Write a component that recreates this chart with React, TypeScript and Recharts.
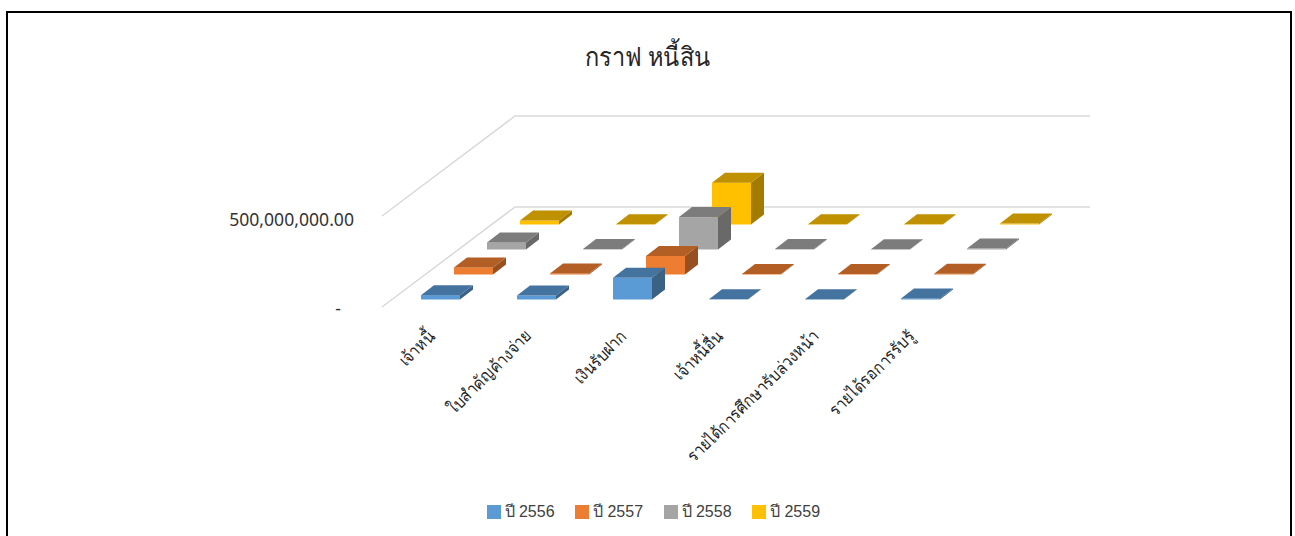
import React from 'react';
import { BarChart, Bar, XAxis, YAxis, Legend, ReferenceLine } from 'recharts';

const categories = ['เจ้าหนี้', 'ใบสำคัญค้างจ่าย', 'เงินรับฝาก', 'เจ้าหนี้อื่น', 'รายได้การศึกษารับล่วงหน้า', 'รายได้รอการรับรู้'];
const y2556 = [24000000, 22000000, 119000000, 1000000, 2000000, 6000000];
const y2557 = [39000000, 6000000, 102000000, 3000000, 3000000, 4000000];
const y2558 = [39000000, 3000000, 178000000, 3000000, 2000000, 5000000];
const y2559 = [22000000, 2000000, 230000000, 2000000, 2000000, 5000000];
const axisTicks = [0, 500000000];

const data = categories.map((name, i) => ({
  name,
  'ปี 2556': y2556[i],
  'ปี 2557': y2557[i],
  'ปี 2558': y2558[i],
  'ปี 2559': y2559[i],
}));

const THAI_FONT = '"Noto Sans", "Liberation Sans", sans-serif';
const LEGEND_FONT = '"Liberation Sans", "Noto Sans", sans-serif';

// depth step between rows, and the depth of one box
const ROW_DX = 33;
const ROW_DY = -25;
const BOX_DX = 13;
const BOX_DY = -10;

const series = [
  { key: 'ปี 2559', row: 3, front: '#FFC000', top: '#BF9000', side: '#A37B00' },
  { key: 'ปี 2558', row: 2, front: '#A5A5A5', top: '#7C7C7C', side: '#696969' },
  { key: 'ปี 2557', row: 1, front: '#ED7D31', top: '#B25E25', side: '#985020' },
  { key: 'ปี 2556', row: 0, front: '#5B9BD5', top: '#44739F', side: '#3A6285' },
];

const Box3D = (props: any) => {
  const { x, y, width: w, height: h, row, front, top, side } = props;
  const ox = x + row * ROW_DX;
  const oy = y + row * ROW_DY;
  return (
    <g>
      <polygon
        points={`${ox + w},${oy} ${ox + w + BOX_DX},${oy + BOX_DY} ${ox + w + BOX_DX},${oy + h + BOX_DY} ${ox + w},${oy + h}`}
        fill={side}
      />
      <rect x={ox} y={oy} width={w} height={h} fill={front} />
      <polygon
        points={`${ox},${oy} ${ox + w},${oy} ${ox + w + BOX_DX},${oy + BOX_DY} ${ox + BOX_DX},${oy + BOX_DY}`}
        fill={top}
      />
    </g>
  );
};

// floor/wall line: front edge, side going back, then along the back wall
const WallLine = (props: any) => {
  const { x1, y1 } = props;
  const pts = `${x1 - 10},${y1 + 7.5} ${x1 + 123},${y1 - 92.5} ${x1 + 698},${y1 - 92.5}`;
  return <polyline points={pts} fill="none" stroke="#D9D9D9" strokeWidth={1.5} />;
};

const CategoryTick = (props: any) => {
  const { x, y, payload } = props;
  const tx = x - 4;
  const ty = y + 30;
  return (
    <text
      x={0}
      y={0}
      textAnchor="end"
      fontSize={17}
      fontFamily={THAI_FONT}
      fill="#1f1f1f"
      transform={`translate(${tx} ${ty}) rotate(-45) scale(0.885 1)`}
    >
      {payload.value}
    </text>
  );
};

const ValueTick = (props: any) => {
  const { x, y, payload } = props;
  const isZero = payload.value === 0;
  return (
    <text
      x={isZero ? x - 13 : x}
      y={isZero ? y + 15 : y + 17}
      textAnchor="end"
      fontSize={17.6}
      fontFamily={THAI_FONT}
      fill="#333333"
    >
      {isZero ? '-' : payload.value.toLocaleString('en-US', { minimumFractionDigits: 2 })}
    </text>
  );
};

const LegendRow = (props: any) => {
  const items = [...(props.payload ?? [])].sort((a, b) => String(a.value).localeCompare(String(b.value)));
  return (
    <div style={{ display: 'flex', justifyContent: 'center', fontFamily: LEGEND_FONT, fontSize: 16, color: '#404040' }}>
      {items.map((it) => (
        <div key={it.value} style={{ display: 'flex', alignItems: 'center', width: 88.5 }}>
          <span style={{ width: 14, height: 14, background: it.color, marginRight: 4 }} />
          {it.value}
        </div>
      ))}
    </div>
  );
};

export default function App() {
  return (
    <div style={{ position: 'absolute', left: 0, top: 0, width: 1295, height: 536, overflow: 'hidden', background: '#fff' }}>
      <div
        style={{
          position: 'absolute',
          left: 6,
          top: 11,
          width: 1282,
          height: 560,
          border: '2px solid #000',
        }}
      />
      <div
        style={{
          position: 'absolute',
          left: 0,
          width: 1295,
          top: 36,
          textAlign: 'center',
          fontFamily: THAI_FONT,
          fontSize: 26,
          fontWeight: 300,
          color: '#262626',
          transform: 'scaleX(0.906)',
        }}
      >
        กราฟ หนี้สิน
      </div>
      <div style={{ position: 'absolute', left: 0, top: 0 }}>
        <BarChart
          width={1295}
          height={536}
          data={data}
          barSize={39}
          margin={{ top: 208.5, right: 327, bottom: 36.5, left: 353 }}
        >
          <YAxis
            width={39}
            domain={[0, 500000000]}
            ticks={axisTicks}
            axisLine={false}
            tickLine={false}
            tickSize={0}
            tickMargin={38}
            tick={<ValueTick />}
            interval={0}
          />
          <XAxis
            xAxisId="row0"
            dataKey="name"
            height={175}
            axisLine={false}
            tickLine={false}
            interval={0}
            tick={<CategoryTick />}
          />
          <XAxis xAxisId="row1" dataKey="name" hide />
          <XAxis xAxisId="row2" dataKey="name" hide />
          <XAxis xAxisId="row3" dataKey="name" hide />
          {axisTicks.map((v) => (
            <ReferenceLine key={v} xAxisId="row0" y={v} ifOverflow="visible" zIndex={100} shape={<WallLine />} />
          ))}
          {series.map((s) => (
            <Bar
              key={s.key}
              dataKey={s.key}
              xAxisId={`row${s.row}`}
              fill={s.front}
              isAnimationActive={false}
              shape={<Box3D row={s.row} front={s.front} top={s.top} side={s.side} />}
            />
          ))}
          <Legend verticalAlign="bottom" content={<LegendRow />} wrapperStyle={{ left: 16, width: 1295, bottom: 12 }} />
        </BarChart>
      </div>
    </div>
  );
}
